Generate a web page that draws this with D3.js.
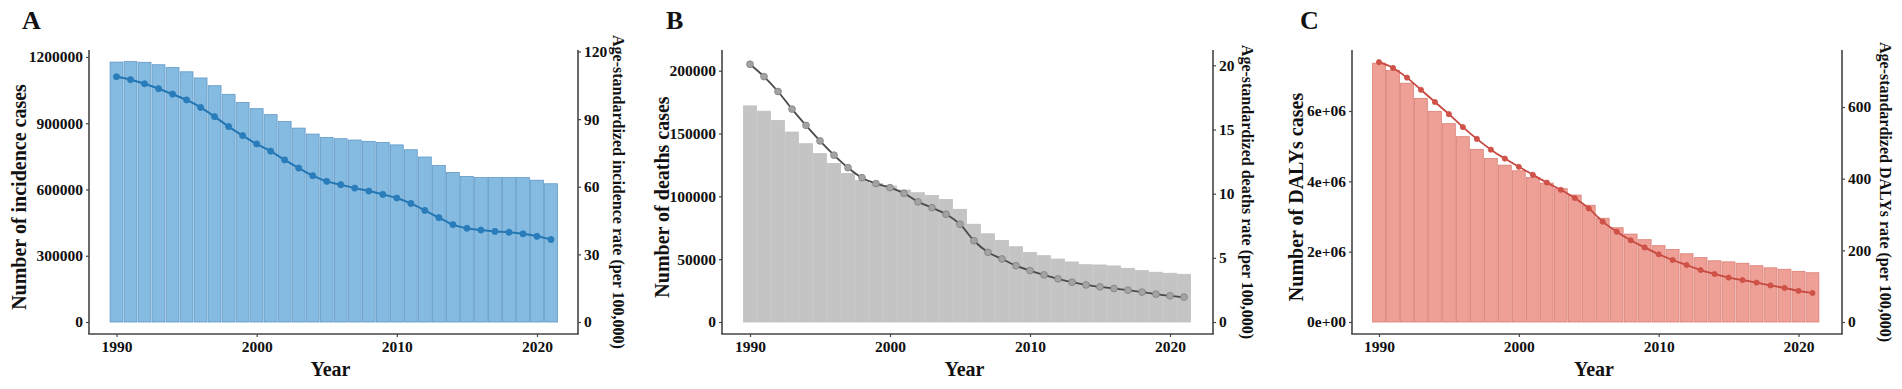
<!DOCTYPE html>
<html>
<head>
<meta charset="utf-8">
<script src="https://cdn.jsdelivr.net/npm/d3@7/dist/d3.min.js"></script>
<style>
  html, body { margin: 0; padding: 0; background: #fff; }
  svg { display: block; }
  text { font-family: "Liberation Serif", "Times New Roman", serif; font-weight: bold; fill: #111; }
</style>
</head>
<body>
<svg id="chart" width="1902" height="389"></svg>
<script>
// ---------------- DATA ----------------
const years = [1990,1991,1992,1993,1994,1995,1996,1997,1998,1999,2000,2001,2002,2003,2004,2005,
               2006,2007,2008,2009,2010,2011,2012,2013,2014,2015,2016,2017,2018,2019,2020,2021];

const incidenceCases = [1177000,1179000,1176000,1165000,1152000,1133000,1105000,1070000,1031000,994000,
  966000,939000,908000,878000,851000,836000,830000,824000,818000,813000,802000,780000,747000,709000,
  677000,659000,654000,654000,654000,654000,642000,626000];
const incidenceRate = [108.8,107.5,105.7,103.5,101.1,98.5,95.2,91.1,86.7,82.7,79.0,75.8,71.9,68.3,64.9,
  62.4,60.9,59.4,58.1,56.6,55.0,52.6,49.5,46.3,43.2,41.6,40.8,40.2,39.8,39.1,38.0,36.6];

const deathCases = [172000,167800,160400,151200,141900,134000,126100,118200,112700,110300,108200,105000,
  102900,100800,97600,89700,77800,70200,64900,59900,55400,52800,50100,47800,45600,45400,44600,42700,
  40900,39600,38800,38000];
const deathRate = [20.08,19.12,17.96,16.59,15.32,14.11,13.0,12.02,11.24,10.78,10.47,10.03,9.36,8.91,8.40,
  7.62,6.33,5.43,4.91,4.39,4.01,3.67,3.36,3.10,2.89,2.74,2.61,2.48,2.33,2.17,2.04,1.94];

const dalyCases = [7360000,7150000,6790000,6360000,5990000,5640000,5270000,4910000,4650000,4460000,
  4300000,4110000,3950000,3790000,3610000,3320000,2950000,2680000,2500000,2340000,2170000,2060000,
  1940000,1830000,1740000,1710000,1670000,1600000,1540000,1500000,1440000,1400000];
const dalyRate = [725,709,682,648,614,580,544,511,481,456,433,411,389,369,346,317,280,252,228,208,189,
  173,159,145,134,124,117,110,102,95,87,81];

const yearTicks = [1990, 2000, 2010, 2020];
const incidenceCaseTicks = [0, 300000, 600000, 900000, 1200000];
const incidenceRateTicks = [0, 30, 60, 90, 120];
const deathCaseTicks = [0, 50000, 100000, 150000, 200000];
const deathRateTicks = [0, 5, 10, 15, 20];
const dalyCaseTicks = [0, 2000000, 4000000, 6000000];
const dalyCaseTickLabels = ["0e+00", "2e+06", "4e+06", "6e+06"];
const dalyRateTicks = [0, 200, 400, 600];

const panelLetters = ["A", "B", "C"];
const leftTitles = ["Number of incidence cases", "Number of deaths cases", "Number of DALYs cases"];
const rightTitles = ["Age-standardized incidence rate (per 100,000)",
                     "Age-standardized deaths rate (per 100,000)",
                     "Age-standardized DALYs rate (per 100,000)"];
const xTitle = "Year";

// ---------------- LAYOUT ----------------
const svg = d3.select("#chart");

const panels = [
  { letter: panelLetters[0], leftTitle: leftTitles[0], rightTitle: rightTitles[0],
    cases: incidenceCases, rate: incidenceRate,
    caseTicks: incidenceCaseTicks, caseFmt: d3.format("d"),
    rateTicks: incidenceRateTicks, caseTop: 1200000, rateTop: 120,
    axL: 89, axR: 578, x0: 116.5, x1: 537, yCaseTop: 57, yRateTop: 51.5,
    letterX: 22, leftTitleX: 19, rightTitleX: 618,
    barFill: "#86BBE1", barStroke: "#5F99C7", lineColor: "#2276B4",
    ptFill: "#2A7DBA", ptStroke: "#2A7DBA", ptR: 3.1, lineW: 2 },
  { letter: panelLetters[1], leftTitle: leftTitles[1], rightTitle: rightTitles[1],
    cases: deathCases, rate: deathRate,
    caseTicks: deathCaseTicks, caseFmt: d3.format("d"),
    rateTicks: deathRateTicks, caseTop: 200000, rateTop: 20,
    axL: 722, axR: 1213, x0: 750, x1: 1170, yCaseTop: 70.7, yRateTop: 65.3,
    letterX: 666, leftTitleX: 662, rightTitleX: 1247,
    barFill: "#C4C4C4", barStroke: "#C0C0C0", lineColor: "#4A4A4A",
    ptFill: "#A3A3A3", ptStroke: "#808080", ptR: 3.4, lineW: 1.8 },
  { letter: panelLetters[2], leftTitle: leftTitles[2], rightTitle: rightTitles[2],
    cases: dalyCases, rate: dalyRate,
    caseTicks: dalyCaseTicks, caseFmt: (d, i) => dalyCaseTickLabels[i],
    rateTicks: dalyRateTicks, caseTop: 6000000, rateTop: 600,
    axL: 1352, axR: 1842, x0: 1379, x1: 1798.5, yCaseTop: 111, yRateTop: 107,
    letterX: 1300, leftTitleX: 1296, rightTitleX: 1885,
    barFill: "#EFA096", barStroke: "#DA7E74", lineColor: "#C64840",
    ptFill: "#CF5249", ptStroke: "#CF5249", ptR: 2.6, lineW: 1.8 }
];

const yZero = 322, axTop = 50, axBot = 334;
const axisColor = "#454545";

panels.forEach(p => {
  const g = svg.append("g");
  const x = d3.scaleLinear().domain([1990, 2020]).range([p.x0, p.x1]);
  const yL = d3.scaleLinear().domain([0, p.caseTop]).range([yZero, p.yCaseTop]);
  const yR = d3.scaleLinear().domain([0, p.rateTop]).range([yZero, p.yRateTop]);
  const step = x(1991) - x(1990);

  // bars
  g.append("g").selectAll("rect").data(years).join("rect")
    .attr("x", (d) => x(d) - step / 2 + 0.6)
    .attr("width", step - 1.2)
    .attr("y", (d, i) => yL(p.cases[i]))
    .attr("height", (d, i) => yL(0) - yL(p.cases[i]))
    .attr("fill", p.barFill)
    .attr("stroke", p.barStroke)
    .attr("stroke-width", 0.8);

  // line
  const line = d3.line()
    .x((d) => x(d))
    .y((d, i) => yR(p.rate[i]))
    .curve(d3.curveMonotoneX);
  g.append("path").datum(years)
    .attr("d", line)
    .attr("fill", "none")
    .attr("stroke", p.lineColor)
    .attr("stroke-width", p.lineW);

  g.append("g").selectAll("circle").data(years).join("circle")
    .attr("cx", (d) => x(d))
    .attr("cy", (d, i) => yR(p.rate[i]))
    .attr("r", p.ptR)
    .attr("fill", p.ptFill)
    .attr("stroke", p.ptStroke)
    .attr("stroke-width", 0.8);

  // axis lines
  g.append("line").attr("x1", p.axL).attr("x2", p.axL).attr("y1", axTop).attr("y2", axBot)
    .attr("stroke", axisColor).attr("stroke-width", 1.6);
  g.append("line").attr("x1", p.axR).attr("x2", p.axR).attr("y1", axTop).attr("y2", axBot)
    .attr("stroke", axisColor).attr("stroke-width", 1.6);
  g.append("line").attr("x1", p.axL - 0.8).attr("x2", p.axR + 0.8).attr("y1", axBot).attr("y2", axBot)
    .attr("stroke", axisColor).attr("stroke-width", 1.6);

  // axes
  const styleAxis = (sel) => {
    sel.select(".domain").remove();
    sel.selectAll(".tick line").attr("stroke", axisColor).attr("stroke-width", 1.2);
    sel.selectAll(".tick text")
      .attr("font-family", '"Liberation Serif", "Times New Roman", serif')
      .attr("font-weight", "bold").attr("font-size", 15.5).attr("fill", "#1a1a1a");
  };

  g.append("g").attr("transform", `translate(${p.axL},0)`)
    .call(d3.axisLeft(yL).tickValues(p.caseTicks).tickFormat(p.caseFmt).tickSize(3).tickPadding(3))
    .call(styleAxis);
  g.append("g").attr("transform", `translate(${p.axR},0)`)
    .call(d3.axisRight(yR).tickValues(p.rateTicks).tickFormat(d3.format("d")).tickSize(3).tickPadding(3))
    .call(styleAxis);
  g.append("g").attr("transform", `translate(0,${axBot})`)
    .call(d3.axisBottom(x).tickValues(yearTicks).tickFormat(d3.format("d")).tickSize(3).tickPadding(4))
    .call(styleAxis);

  // titles
  g.append("text").attr("x", p.letterX).attr("y", 29)
    .attr("font-size", 26).text(p.letter);

  g.append("text")
    .attr("transform", `translate(${p.leftTitleX},197) rotate(-90)`)
    .attr("text-anchor", "middle").attr("dominant-baseline", "central")
    .attr("font-size", 20).text(p.leftTitle);

  g.append("text")
    .attr("transform", `translate(${p.rightTitleX},192) rotate(90)`)
    .attr("text-anchor", "middle").attr("dominant-baseline", "central")
    .attr("font-size", 16).text(p.rightTitle);

  g.append("text")
    .attr("x", (p.axL + p.axR) / 2 - 3).attr("y", 376)
    .attr("text-anchor", "middle")
    .attr("font-size", 20).text(xTitle);
});
</script>
</body>
</html>
